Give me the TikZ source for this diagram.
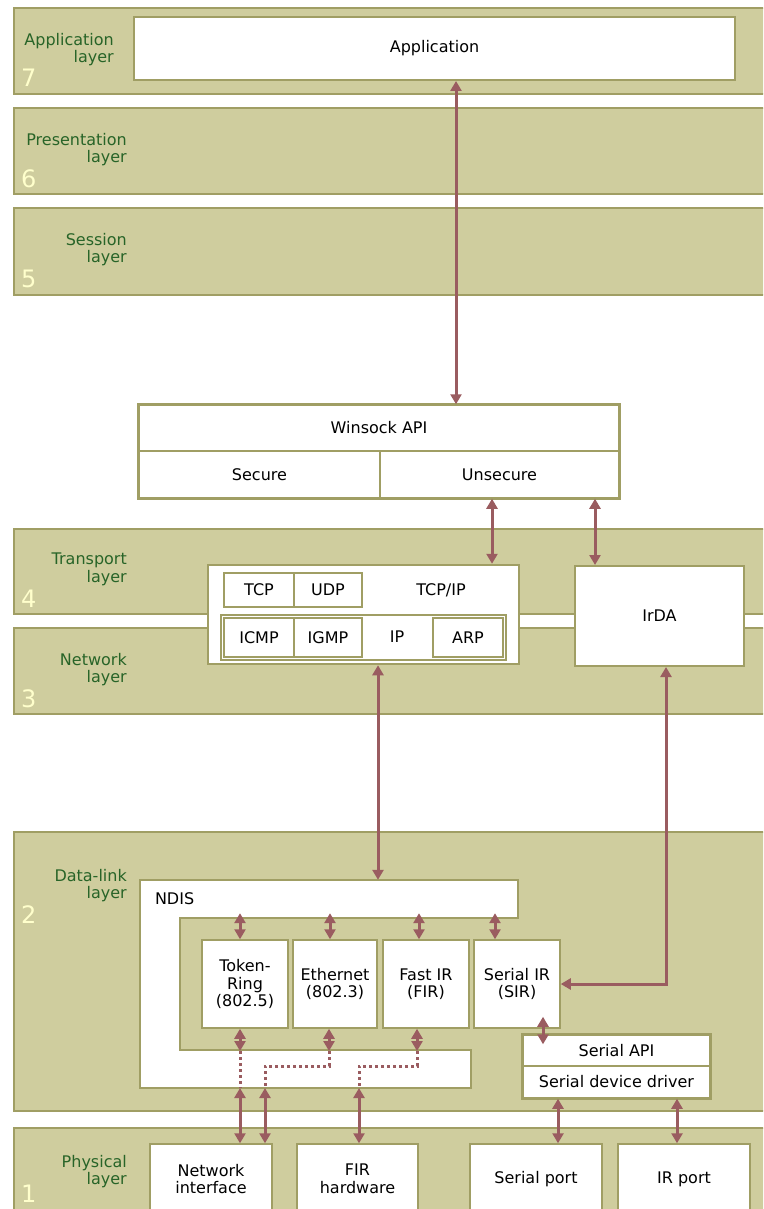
\documentclass[tikz,border=0pt]{standalone}
\usepackage{fontspec}
\setmainfont{DejaVu Sans}
\usetikzlibrary{arrows.meta}
\definecolor{bandfill}{RGB}{207,205,158}
\definecolor{bandedge}{RGB}{160,158,100}
\definecolor{layergreen}{RGB}{40,100,40}
\definecolor{layernum}{RGB}{255,255,204}
\definecolor{arrowred}{RGB}{154,92,96}
\begin{document}
\begin{tikzpicture}[x=1pt,y=-1pt,
	band/.style={fill=bandfill,draw=bandedge,line width=2pt},
	blk/.style={draw=bandedge,fill=white,line width=1.5pt,inner sep=0pt,align=center,
		font=\fontsize{16pt}{17.5pt}\selectfont},
	txt/.style={inner sep=0pt,font=\fontsize{16pt}{17.5pt}\selectfont},
	lname/.style={anchor=north east,inner sep=0pt,align=right,text=layergreen,
		font=\fontsize{16pt}{17.5pt}\selectfont},
	lnum/.style={anchor=base west,inner sep=0pt,text=layernum,font=\fontsize{24pt}{24pt}\selectfont},
	dlink/.style={draw=arrowred,line width=3pt,
		{Triangle[length=10pt,width=11pt]}-{Triangle[length=10pt,width=11pt]}},
	dotlink/.style={draw=arrowred,line width=3pt,dash pattern=on 3pt off 3pt}]
	\clip (0,0) rectangle (763,1209);
	\fill[white] (0,0) rectangle (763,1209);

	% layers
	\draw[band] (14,8) rectangle (780,94);
	\draw[band] (14,108) rectangle (780,194);
	\draw[band] (14,208) rectangle (780,295);
	\draw[band] (14,529) rectangle (780,614);
	\draw[band] (14,628) rectangle (780,714);
	\draw[band] (14,832) rectangle (780,1111);
	\draw[band] (14,1128) rectangle (780,1240);

	\node[lname] (l7) at (114,33) {Application\\layer};
	\node[lname] (l6) at (127,133) {Presentation\\layer};
	\node[lname] (l5) at (127,233) {Session\\layer};
	\node[lname] (l4) at (127,553) {Transport\\layer};
	\node[lname] (l3) at (127,653) {Network\\layer};
	\node[lname] (l2) at (127,869) {Data-link\\layer};
	\node[lname] (l1) at (127,1155) {Physical\\layer};
	\node[lnum] (n7) at (21,87) {7};
	\node[lnum] (n6) at (21,188) {6};
	\node[lnum] (n5) at (21,287) {5};
	\node[lnum] (n4) at (21,607) {4};
	\node[lnum] (n3) at (21,707) {3};
	\node[lnum] (n2) at (21,923) {2};
	\node[lnum] (n1) at (21,1202) {1};

	% application and winsock
	\node[blk,line width=2pt,minimum width=601pt,minimum height=63pt] (app) at (434.5,48.5) {Application};
	\node[blk,minimum width=480pt,minimum height=46pt] (wsapi) at (379,428) {Winsock API};
	\node[blk,minimum width=241pt,minimum height=47pt] (sec) at (259.5,474.5) {Secure};
	\node[blk,minimum width=239pt,minimum height=47pt] (unsec) at (499.5,474.5) {Unsecure};
	\draw[draw=bandedge,line width=2.5pt] (wsapi.north west) rectangle (unsec.south east);

	% transport and network
	\node[blk,line width=2.5pt,minimum width=311pt,minimum height=99pt] (tcpip) at (363.5,614.5) {};
	\node[txt] (tcpiptxt) at (441,590) {TCP/IP};
	\node[blk,minimum width=70pt,minimum height=34pt] (tcp) at (259,590) {TCP};
	\node[blk,minimum width=68pt,minimum height=34pt] (udp) at (328,590) {UDP};
	\node[blk,minimum width=285pt,minimum height=45pt] (iprow) at (363.5,637.5) {};
	\node[blk,minimum width=70pt,minimum height=39pt] (icmp) at (259,637.5) {ICMP};
	\node[blk,minimum width=68pt,minimum height=39pt] (igmp) at (328,637.5) {IGMP};
	\node[txt] (iptxt) at (397,637) {IP};
	\node[blk,minimum width=70pt,minimum height=39pt] (arp) at (468,637.5) {ARP};
	\node[blk,line width=2pt,minimum width=169pt,minimum height=100pt] (irda) at (659.5,616) {IrDA};

	% data-link
	\draw[draw=bandedge,fill=white,line width=1.5pt] (140,880) -- (518,880) -- (518,918) -- (180,918)
		-- (180,1050) -- (471,1050) -- (471,1088) -- (140,1088) -- cycle;
	\node[txt,minimum width=378pt,minimum height=38pt,text width=348pt,inner xsep=15pt,align=left] (ndis) at (329,899) {NDIS};
	\node[blk,minimum width=86pt,minimum height=88pt] (tr) at (245,984) {Token-\\Ring\\(802.5)};
	\node[blk,minimum width=84pt,minimum height=88pt] (eth) at (335,984) {Ethernet\\(802.3)};
	\node[blk,minimum width=86pt,minimum height=88pt] (fir) at (426,984) {Fast IR\\(FIR)};
	\node[blk,minimum width=86pt,minimum height=88pt] (sir) at (517,984) {Serial IR\\(SIR)};
	\node[blk,minimum width=187pt,minimum height=31pt] (sapi) at (616.5,1050.5) {Serial API};
	\node[blk,minimum width=187pt,minimum height=32pt] (sdrv) at (616.5,1082) {Serial device driver};
	\draw[draw=bandedge,line width=2.5pt] (sapi.north west) rectangle (sdrv.south east);

	% physical
	\node[blk,minimum width=122pt,minimum height=70pt] (nic) at (211,1179) {Network\\interface};
	\node[blk,minimum width=121pt,minimum height=70pt] (firhw) at (357.5,1179) {FIR\\hardware};
	\node[blk,minimum width=132pt,minimum height=70pt] (sport) at (536,1179) {Serial port};
	\node[blk,minimum width=132pt,minimum height=70pt] (irport) at (684,1179) {IR port};

	% connectors
	\coordinate (xa) at (456,0);
	\coordinate (xb) at (492,0);
	\coordinate (xc) at (595,0);
	\coordinate (xd) at (378,0);
	\coordinate (xe) at (666,0);
	\coordinate (k1) at (240,0);
	\coordinate (k2) at (330,0);
	\coordinate (k3) at (419,0);
	\coordinate (k4) at (495,0);
	\coordinate (xs) at (543,0);
	\coordinate (xp) at (558,0);
	\coordinate (xq) at (677,0);
	\coordinate (m2) at (0,1066);
	\coordinate (d1) at (240,1051);
	\coordinate (d2) at (329,1051);
	\coordinate (d3) at (417,1051);
	\coordinate (e1) at (240,1088);
	\coordinate (e2) at (265,1088);
	\coordinate (e3) at (359,1088);

	\draw[dlink] (app.south -| xa) -- (wsapi.north -| xa);
	\draw[dlink] (unsec.south -| xb) -- (tcpip.north -| xb);
	\draw[dlink] (unsec.south -| xc) -- (irda.north -| xc);
	\draw[dlink] (tcpip.south -| xd) -- (ndis.north -| xd);
	\draw[dlink] (irda.south -| xe) |- (sir.east);
	\draw[dlink,shorten <=-5pt] (ndis.south -| k1) -- (tr.north -| k1);
	\draw[dlink,shorten <=-5pt] (ndis.south -| k2) -- (eth.north -| k2);
	\draw[dlink,shorten <=-5pt] (ndis.south -| k3) -- (fir.north -| k3);
	\draw[dlink,shorten <=-5pt] (ndis.south -| k4) -- (sir.north -| k4);
	\draw[dlink] (tr.south -| d1) -- (d1);
	\draw[dlink] (eth.south -| d2) -- (d2);
	\draw[dlink] (fir.south -| d3) -- (d3);
	\draw[dotlink] (d1) -- (e1);
	\draw[dotlink] (d2) -- (d2 |- m2) -| (e2);
	\draw[dotlink] (d3) -- (d3 |- m2) -| (e3);
	\draw[dlink] (e1) -- (nic.north -| e1);
	\draw[dlink] (e2) -- (nic.north -| e2);
	\draw[dlink] (e3) -- (firhw.north -| e3);
	\draw[dlink,shorten <=-12pt,shorten >=-10pt] (sir.south -| xs) -- (sapi.north -| xs);
	\draw[dlink] (sdrv.south -| xp) -- (sport.north -| xp);
	\draw[dlink] (sdrv.south -| xq) -- (irport.north -| xq);
\end{tikzpicture}
\end{document}
